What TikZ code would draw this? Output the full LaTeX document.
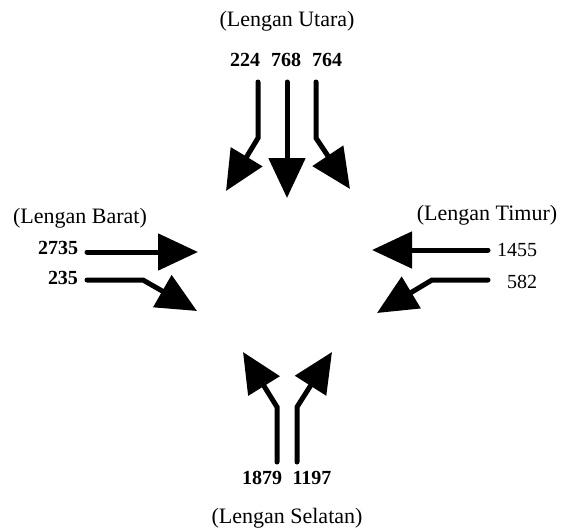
\documentclass[tikz,border=0pt]{standalone}
\usepackage{fontspec}
\setmainfont{Liberation Serif}
\usetikzlibrary{arrows.meta}
\begin{document}
\begin{tikzpicture}[x=1pt,y=-1pt,
  flow/.style={line width=5pt,line cap=round,line join=miter,
    -{Triangle[length=40pt,width=36pt]}},
  armtitle/.style={font=\fontsize{22}{26}\selectfont,inner sep=0pt},
  vol/.style={font=\fontsize{20}{24}\selectfont\bfseries,inner sep=0pt},
  volr/.style={font=\fontsize{20}{24}\selectfont,inner sep=0pt}]
\useasboundingbox (0,0) rectangle (563,531);
% titles
\node[armtitle] (tN) at (287,21) {(Lengan Utara)};
\node[armtitle] (tS) at (287,518) {(Lengan Selatan)};
\node[armtitle] (tW) at (80,218) {(Lengan Barat)};
\node[armtitle] (tE) at (487,215) {(Lengan Timur)};
% volumes
\node[vol] (n1) at (245,60) {224};
\node[vol] (n2) at (286,60) {768};
\node[vol] (n3) at (327,60) {764};
\node[vol] (s1) at (262,478) {1879};
\node[vol] (s2) at (312,478) {1197};
\node[vol] (w1) at (58,248) {2735};
\node[vol] (w2) at (63,278) {235};
\node[volr] (e1) at (517,250) {1455};
\node[volr] (e2) at (522,282) {582};
% North arm
\coordinate (nA) at (258,82); \coordinate (nAb) at (258,138); \coordinate (nAt) at (226,191);
\coordinate (nB) at (287,82); \coordinate (nBt) at (287,198);
\coordinate (nC) at (316,82); \coordinate (nCb) at (316,138); \coordinate (nCt) at (350,189);
\draw[flow] (nA) -- (nAb) -- (nAt);
\draw[flow] (nB) -- (nBt);
\draw[flow] (nC) -- (nCb) -- (nCt);
% West arm
\coordinate (wA) at (87,252); \coordinate (wAt) at (198,252);
\coordinate (wB) at (87,280); \coordinate (wBb) at (143,280); \coordinate (wBt) at (197,311);
\draw[flow] (wA) -- (wAt);
\draw[flow] (wB) -- (wBb) -- (wBt);
% East arm
\coordinate (eA) at (488,250); \coordinate (eAt) at (372,250);
\coordinate (eB) at (488,280); \coordinate (eBb) at (432,280); \coordinate (eBt) at (377,313);
\draw[flow] (eA) -- (eAt);
\draw[flow] (eB) -- (eBb) -- (eBt);
% South arm
\coordinate (sA) at (277,462); \coordinate (sAb) at (277,407); \coordinate (sAt) at (243,352);
\coordinate (sB) at (297,462); \coordinate (sBb) at (297,407); \coordinate (sBt) at (332,352);
\draw[flow] (sA) -- (sAb) -- (sAt);
\draw[flow] (sB) -- (sBb) -- (sBt);
\end{tikzpicture}
\end{document}
